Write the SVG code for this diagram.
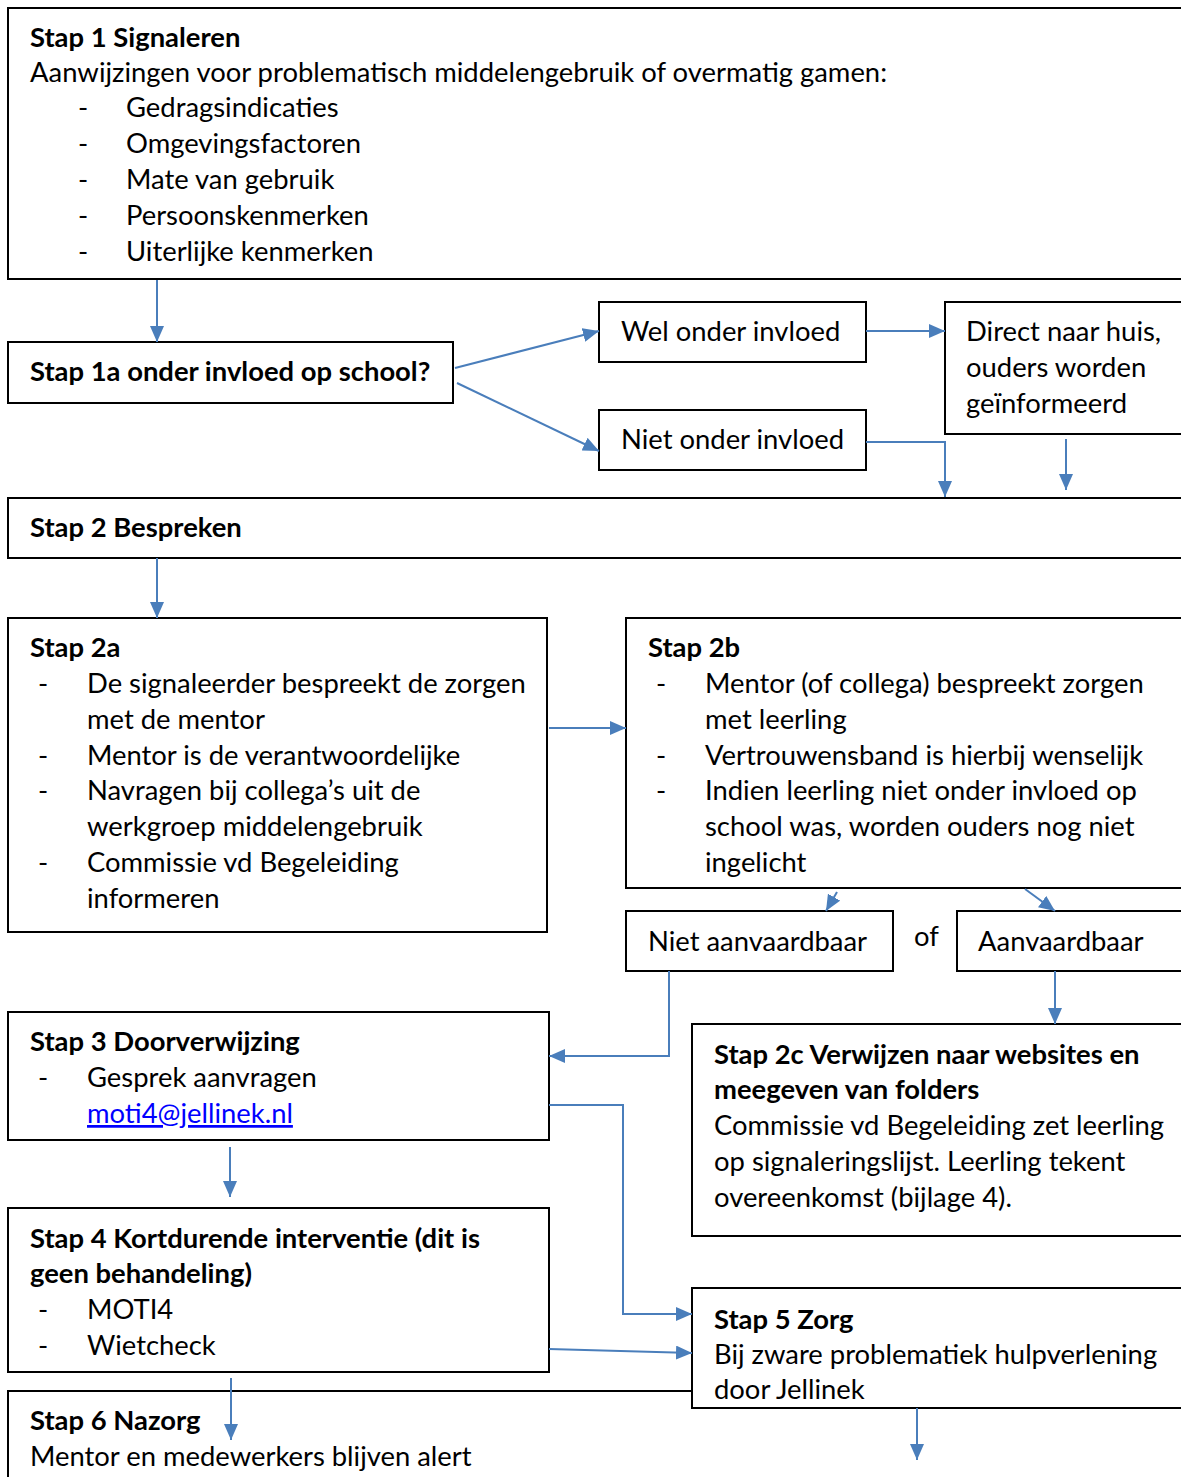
<svg xmlns="http://www.w3.org/2000/svg" width="1181" height="1477" viewBox="0 0 1181 1477">
<defs>
<style>
.box{fill:#fff;stroke:#000;stroke-width:2}
text{font-family:Lato,"Liberation Sans",sans-serif;font-size:27.4px;fill:#000}
.b{font-weight:bold}
.link{fill:#0000ff;text-decoration:underline}
.c{fill:none;stroke:#4a7ebb;stroke-width:2;marker-end:url(#ah)}
</style>
<marker id="ah" markerUnits="userSpaceOnUse" viewBox="0 0 16 14" refX="16" refY="7" markerWidth="16" markerHeight="14" orient="auto">
<path d="M0,0 L16,7 L0,14 Z" fill="#4a7ebb"/>
</marker>
</defs>
<rect width="1181" height="1477" fill="#fff"/>

<g id="stap1">
<rect class="box" x="8" y="8" width="1185" height="271"/>
<text class="b" x="30" y="47">Stap 1 Signaleren</text>
<text x="30" y="82">Aanwijzingen voor problematisch middelengebruik of overmatig gamen:</text>
<text x="78" y="117">-</text><text x="126" y="117">Gedragsindicaties</text>
<text x="78" y="153">-</text><text x="126" y="153">Omgevingsfactoren</text>
<text x="78" y="189">-</text><text x="126" y="189">Mate van gebruik</text>
<text x="78" y="225">-</text><text x="126" y="225">Persoonskenmerken</text>
<text x="78" y="261">-</text><text x="126" y="261">Uiterlijke kenmerken</text>
</g>

<g id="stap1a">
<rect class="box" x="8" y="342" width="445" height="61"/>
<text class="b" x="30" y="381">Stap 1a onder invloed op school?</text>
</g>

<g id="wel">
<rect class="box" x="599" y="302" width="267" height="60"/>
<text x="621" y="341">Wel onder invloed</text>
</g>

<g id="niet">
<rect class="box" x="599" y="410" width="267" height="60"/>
<text x="621" y="449">Niet onder invloed</text>
</g>

<g id="direct">
<rect class="box" x="945" y="302" width="248" height="132"/>
<text x="966" y="341">Direct naar huis,</text>
<text x="966" y="377">ouders worden</text>
<text x="966" y="413">geïnformeerd</text>
</g>

<g id="stap2">
<rect class="box" x="8" y="498" width="1185" height="60"/>
<text class="b" x="30" y="537">Stap 2 Bespreken</text>
</g>

<g id="stap2a">
<rect class="box" x="8" y="618" width="539" height="314"/>
<text class="b" x="30" y="657">Stap 2a</text>
<text x="38" y="693">-</text><text x="87" y="693">De signaleerder bespreekt de zorgen</text>
<text x="87" y="729">met de mentor</text>
<text x="38" y="765">-</text><text x="87" y="765">Mentor is de verantwoordelijke</text>
<text x="38" y="800">-</text><text x="87" y="800">Navragen bij collega’s uit de</text>
<text x="87" y="836">werkgroep middelengebruik</text>
<text x="38" y="872">-</text><text x="87" y="872">Commissie vd Begeleiding</text>
<text x="87" y="908">informeren</text>
</g>

<g id="stap2b">
<rect class="box" x="626" y="618" width="567" height="270"/>
<text class="b" x="648" y="657">Stap 2b</text>
<text x="656" y="693">-</text><text x="705" y="693">Mentor (of collega) bespreekt zorgen</text>
<text x="705" y="729">met leerling</text>
<text x="656" y="765">-</text><text x="705" y="765">Vertrouwensband is hierbij wenselijk</text>
<text x="656" y="800">-</text><text x="705" y="800">Indien leerling niet onder invloed op</text>
<text x="705" y="836">school was, worden ouders nog niet</text>
<text x="705" y="872">ingelicht</text>
</g>

<g id="nietaanvaardbaar">
<rect class="box" x="626" y="911" width="267" height="60"/>
<text x="648" y="951">Niet aanvaardbaar</text>
</g>

<text x="914" y="946">of</text>

<g id="aanvaardbaar">
<rect class="box" x="957" y="911" width="236" height="60"/>
<text x="978" y="951">Aanvaardbaar</text>
</g>

<g id="stap3">
<rect class="box" x="8" y="1012" width="541" height="128"/>
<text class="b" x="30" y="1051">Stap 3 Doorverwijzing</text>
<text x="38" y="1087">-</text><text x="87" y="1087">Gesprek aanvragen</text>
<text class="link" x="87" y="1123">moti4@jellinek.nl</text>
</g>

<g id="stap2c">
<rect class="box" x="692" y="1024" width="501" height="212"/>
<text class="b" x="714" y="1064">Stap 2c Verwijzen naar websites en</text>
<text class="b" x="714" y="1099">meegeven van folders</text>
<text x="714" y="1135">Commissie vd Begeleiding zet leerling</text>
<text x="714" y="1171">op signaleringslijst. Leerling tekent</text>
<text x="714" y="1207">overeenkomst (bijlage 4).</text>
</g>

<g id="stap4">
<rect class="box" x="8" y="1208" width="541" height="164"/>
<text class="b" x="30" y="1248">Stap 4 Kortdurende interventie (dit is</text>
<text class="b" x="30" y="1283">geen behandeling)</text>
<text x="38" y="1319">-</text><text x="87" y="1319">MOTI4</text>
<text x="38" y="1355">-</text><text x="87" y="1355">Wietcheck</text>
</g>

<g id="stap6">
<rect class="box" x="8" y="1391" width="1185" height="100"/>
<text class="b" x="30" y="1430">Stap 6 Nazorg</text>
<text x="30" y="1466">Mentor en medewerkers blijven alert</text>
</g>

<g id="stap5">
<rect class="box" x="692" y="1288" width="501" height="120"/>
<text class="b" x="714" y="1329">Stap 5 Zorg</text>
<text x="714" y="1364">Bij zware problematiek hulpverlening</text>
<text x="714" y="1399">door Jellinek</text>
</g>

<g id="connectors">
<path class="c" d="M157,280 V342"/>
<path class="c" d="M455,368 L599,331"/>
<path class="c" d="M457,383 L599,451"/>
<path class="c" d="M866,331 H945"/>
<path class="c" d="M866,442 H945 V497"/>
<path class="c" d="M1066,439 V490"/>
<path class="c" d="M157,558 V618"/>
<path class="c" d="M549,728 H626"/>
<path class="c" d="M837,892 L826,911"/>
<path class="c" d="M1025,889 L1055,911"/>
<path class="c" d="M1055,971 V1024"/>
<path class="c" d="M669,971 V1056 H549"/>
<path class="c" d="M549,1105 H623 V1314 H692"/>
<path class="c" d="M230,1147 V1197"/>
<path class="c" d="M549,1349 L692,1353"/>
<path class="c" d="M231,1378 V1440"/>
<path class="c" d="M917,1408 V1460"/>
</g>
</svg>
